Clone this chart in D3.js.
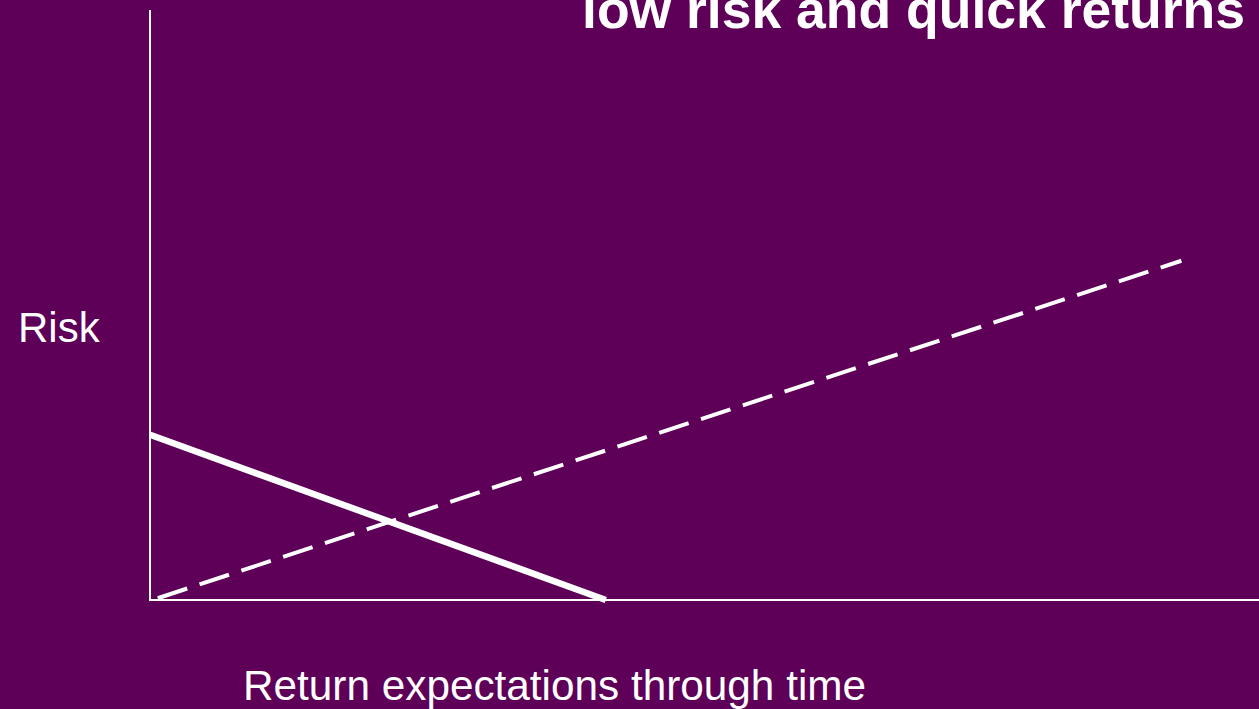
<!DOCTYPE html>
<html><head><meta charset="utf-8">
<script src="https://cdn.jsdelivr.net/npm/d3@7"></script>
<style>html,body{margin:0;padding:0;background:#5E0058;overflow:hidden}</style>
</head><body>
<script>
const titleText = "low risk and quick returns";
const yLabel = "Risk";
const xLabel = "Return expectations through time";
// series in data units (x: 0-100 time, y: 0-100 risk)
const solidX = [0, 41.1];
const solidY = [28, 0];
const dashedX = [0.7, 93];
const dashedY = [0.3, 57.5];

const W = 1259, H = 709;
const svg = d3.select("body").append("svg").attr("width", W).attr("height", H);
svg.append("rect").attr("width", W).attr("height", H).attr("fill", "#5E0058");

const x = d3.scaleLinear().domain([0, 100]).range([150, 1259]);
const y = d3.scaleLinear().domain([0, 100]).range([600, 10]);

// axes
svg.append("line").attr("x1", x(0)).attr("x2", x(0)).attr("y1", y(0)).attr("y2", y(100))
  .attr("stroke", "#fff").attr("stroke-width", 2);
svg.append("line").attr("x1", x(0) - 1).attr("x2", x(100)).attr("y1", y(0)).attr("y2", y(0))
  .attr("stroke", "#fff").attr("stroke-width", 2);

const line = d3.line().x(d => x(d[0])).y(d => y(d[1]));
svg.append("path").datum(solidX.map((v, i) => [v, solidY[i]]))
  .attr("d", line).attr("fill", "none").attr("stroke", "#fff").attr("stroke-width", 6.5);
svg.append("path").datum(dashedX.map((v, i) => [v, dashedY[i]]))
  .attr("d", line).attr("fill", "none").attr("stroke", "#fff").attr("stroke-width", 4)
  .attr("stroke-dasharray", "31,13");

svg.append("text").attr("x", 1245).attr("y", 28).attr("text-anchor", "end")
  .attr("font-family", "Liberation Sans, Arial, sans-serif").attr("font-weight", "bold")
  .attr("font-size", 53.5).attr("fill", "#fff").text(titleText);
svg.append("text").attr("x", 18).attr("y", 342)
  .attr("font-family", "Liberation Sans, Arial, sans-serif")
  .attr("font-size", 42).attr("fill", "#fff").text(yLabel);
svg.append("text").attr("x", 243).attr("y", 700)
  .attr("font-family", "Liberation Sans, Arial, sans-serif")
  .attr("font-size", 42.3).attr("fill", "#fff").text(xLabel);
</script>
</body></html>
